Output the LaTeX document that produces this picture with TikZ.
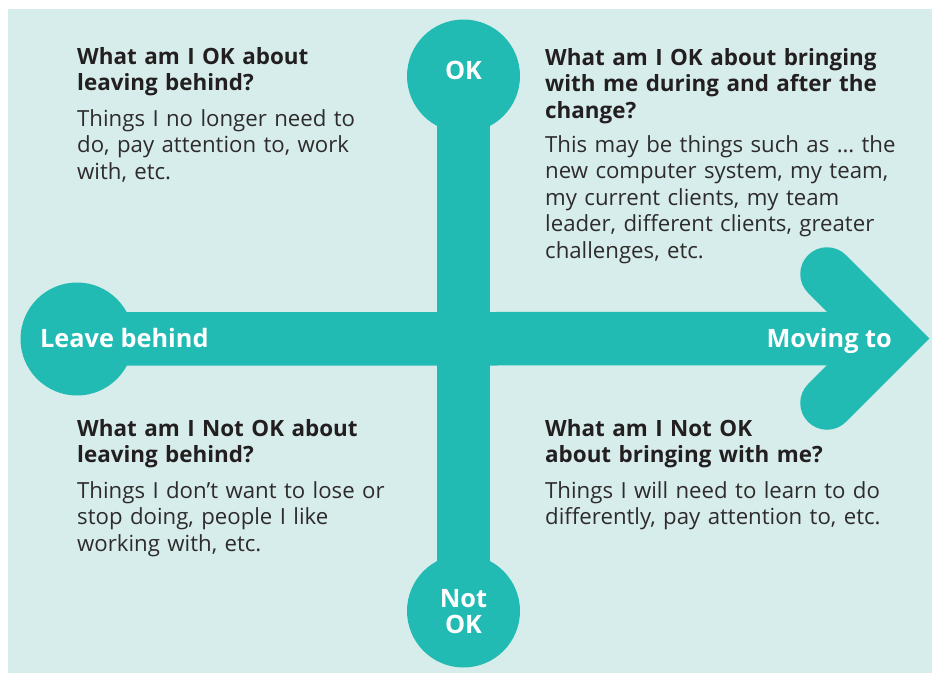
\documentclass[tikz,border=0pt]{standalone}
\usepackage{fontspec}
\setmainfont{Open Sans}
\definecolor{bgc}{HTML}{D7EDEB}
\definecolor{tealc}{HTML}{22BBB4}
\definecolor{txt}{HTML}{231F20}
\definecolor{bodytxt}{HTML}{2E2B2C}
\begin{document}
\begin{tikzpicture}[x=1pt,y=-1pt,
  blob/.style={circle,fill=tealc,minimum size=113pt,inner sep=0pt},
  barline/.style={draw=tealc,line width=53.5pt},
  lbl/.style={text=white,font=\fontsize{25.3}{27}\selectfont\bfseries,inner sep=0pt},
  head/.style={anchor=base west,text=txt,inner sep=0pt,text width=340pt,align=left,
    font=\fontsize{22.4}{26.6}\selectfont\bfseries},
  body/.style={anchor=base west,text=bodytxt,inner sep=0pt,text width=360pt,align=left,
    font=\fontsize{22.2}{26.6}\selectfont}]
\useasboundingbox (0,0) rectangle (932,673);
\fill[bgc] (8,9) rectangle (932,673);
% nodes
\node[blob] (lb) at (77,339) {};
\node[blob] (ok) at (463.5,76) {};
\node[blob] (nok) at (463.5,611) {};
\coordinate (ap) at (891.5,338.5);
\coordinate (au) at (827,274);
\coordinate (ad) at (827,403);
% connectors (bars)
\draw[barline] (lb.center) -- (ap);
\draw[barline] (ok.center) -- (nok.center);
\draw[barline,line join=miter,line cap=round] (au) -- (ap) -- (ad);
% labels
\node[lbl,anchor=base west] (tlb) at (40,347) {Leave behind};
\node[lbl,anchor=base east] (tmv) at (892,347) {Moving to};
\node[lbl,anchor=base] (tok) at (463.5,79) {OK};
\node[lbl,anchor=base,align=center] (tnok) at (463.5,633) {Not\\[-1.5pt]OK};
% quadrant texts
\node[head] (h1) at (77,64) {What am I OK about\\leaving behind?};
\node[body] (b1) at (77,126) {Things I no longer need to\\do, pay attention to, work\\with, etc.};
\node[head] (h2) at (545,65) {What am I OK about bringing\\with me during and after the\\change?};
\node[body] (b2) at (545,152) {This may be things such as \dots\ the\\new computer system, my team,\\my current clients, my team\\leader, different clients, greater\\challenges, etc.};
\node[head] (h3) at (77,436) {What am I Not OK about\\leaving behind?};
\node[body] (b3) at (77,498) {Things I don’t want to lose or\\stop doing, people I like\\working with, etc.};
\node[head] (h4) at (545,436) {What am I Not OK\\about bringing with me?};
\node[body] (b4) at (545,498) {Things I will need to learn to do\\differently, pay attention to, etc.};
\end{tikzpicture}
\end{document}
